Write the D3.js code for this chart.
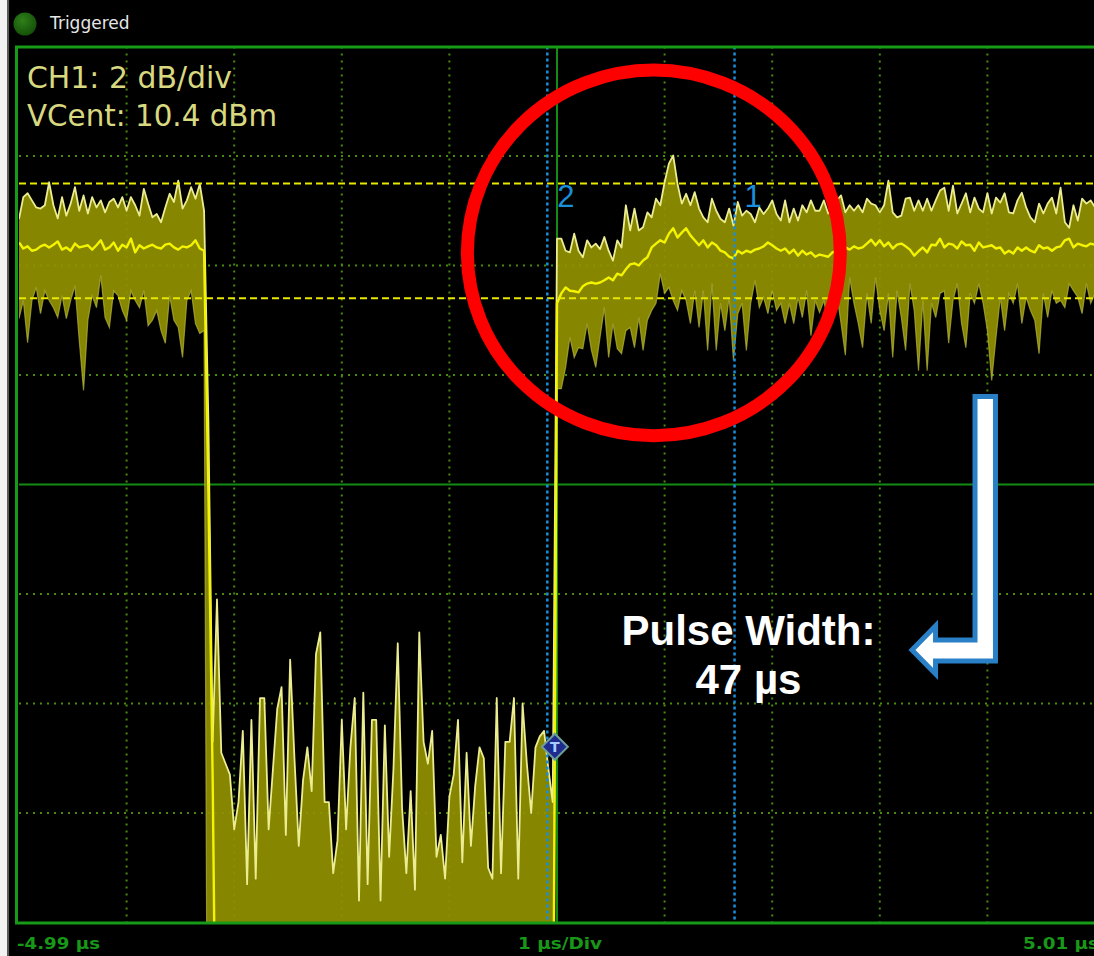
<!DOCTYPE html>
<html>
<head>
<meta charset="utf-8">
<script src="https://cdn.jsdelivr.net/npm/d3@7"></script>
<style>
  html, body { margin: 0; padding: 0; background: #000; }
  svg { display: block; }
</style>
</head>
<body>
<svg id="scope" width="1094" height="956"></svg>
<script>
// ---------------- acquisition (CH1 power envelope, dBm) ----------------
const sampleStart = -4.99;   // µs, first sample
const sampleStep = 0.04;     // µs between samples

// peak-hold envelope
const maxTrace = [
  15.25,15.65,15.72,15.59,15.46,15.44,15.50,15.92,15.50,15.26,
  15.65,15.31,15.53,15.83,15.40,15.68,15.35,15.65,15.46,15.59,
  15.37,15.56,15.62,15.46,15.65,15.40,15.65,15.50,15.31,15.80,
  15.53,15.28,15.34,15.19,15.46,15.71,15.56,15.95,15.44,15.59,
  15.83,15.62,15.89,15.40,
  11.57,
  5.7,8.3,5.5,5.3,5.1,4.1,4.6,5.9,3.1,6.1,
  3.2,6.5,6.5,4.1,5.2,6.3,6.7,4.0,7.2,5.4,
  3.8,5.0,5.6,4.8,7.3,7.7,4.6,4.6,3.3,3.9,
  6.1,4.1,5.6,6.5,2.8,6.6,3.1,6.1,6.1,2.8,
  6.0,3.6,5.2,7.5,4.5,3.3,4.8,3.0,7.7,5.7,
  5.3,5.9,3.6,4.0,3.2,4.7,5.1,6.1,3.5,5.5,
  3.8,4.9,5.6,5.4,3.4,3.2,6.5,3.3,5.7,5.7,
  6.5,3.2,6.4,5.3,4.4,5.6,5.8,5.9,5.2,4.6,
  14.89,14.89,14.67,14.64,14.98,14.67,14.55,14.86,14.73,14.80,
  14.70,14.92,14.67,14.49,14.86,14.73,15.50,15.04,15.44,15.04,
  15.10,15.37,15.28,15.62,15.50,15.92,16.26,16.41,15.89,15.53,
  15.71,15.50,15.74,15.44,15.28,15.19,15.62,15.40,15.25,15.19,
  15.44,15.13,15.56,15.31,15.40,15.34,15.19,15.46,15.34,15.44,
  15.59,15.34,15.22,15.59,15.19,15.44,15.22,
  15.50,15.37,15.59,15.40,15.40,15.59,15.35,15.44,15.59,15.68,
  15.37,15.50,15.40,15.50,15.37,15.62,15.53,15.50,15.37,15.50,
  15.95,15.37,15.28,15.31,15.62,15.64,15.40,15.59,15.40,15.62,
  15.40,15.59,15.77,15.82,15.40,15.86,15.35,15.53,15.72,15.37,
  15.64,15.44,15.37,15.72,15.35,15.64,15.55,15.72,15.37,15.35,
  15.59,15.73,15.46,15.28,15.19,15.53,15.35,15.53,15.64,15.35,
  15.82,15.19,15.09,15.50,15.22,15.62,15.53,15.59,15.46
];

// averaged trace
const avgTrace = [
  14.82,14.71,14.75,14.67,14.69,14.75,14.78,14.73,14.78,14.84,
  14.69,14.73,14.67,14.80,14.73,14.75,14.77,14.69,14.77,14.86,
  14.69,14.73,14.82,14.67,14.78,14.73,14.89,14.64,14.77,14.71,
  14.75,14.78,14.73,14.71,14.78,14.80,14.73,14.69,14.75,14.73,
  14.77,14.86,14.71,14.67,
  10.3,
  5.0,-2.3,-1.9,-2.8,-1.4,-2.1,-2.6,-1.8,-2.2,-1.5,
  -2.4,-1.7,-2.0,-2.9,-1.6,-2.2,-1.9,-2.5,-1.3,-2.0,
  -2.7,-1.8,-2.1,-1.6,-2.4,-2.0,-1.5,-2.6,-1.9,-2.2,
  -1.7,-2.3,-2.8,-1.4,-2.0,-2.5,-1.8,-2.1,-1.6,-2.4,
  -2.2,-1.9,-2.6,-1.5,-2.0,-2.3,-1.7,-2.8,-1.9,-2.1,
  -1.6,-2.4,-2.0,-1.8,-2.5,-1.4,-2.2,-1.9,-2.7,-1.6,
  -2.1,-2.3,-1.8,-2.0,-2.6,-1.5,-2.2,-1.9,-2.4,-1.7,
  -2.0,-2.5,-1.6,-2.2,-1.8,-2.3,-1.9,-2.1,-1.7,-2.0,
  13.71,13.89,14.00,13.94,13.93,13.91,14.02,14.07,14.09,14.07,
  14.09,14.13,14.18,14.13,14.25,14.22,14.33,14.42,14.44,14.40,
  14.49,14.55,14.73,14.80,14.86,14.82,14.98,15.08,14.91,15.00,
  15.08,14.95,14.86,14.77,14.86,14.73,14.82,14.77,14.67,14.64,
  14.56,14.53,14.67,14.62,14.67,14.64,14.69,14.71,14.75,14.82,
  14.77,14.71,14.67,14.71,14.62,14.69,14.58,
  14.67,14.60,14.64,14.56,14.60,14.58,14.56,14.64,14.67,14.62,
  14.73,14.69,14.75,14.71,14.73,14.80,14.87,14.77,14.86,14.75,
  14.82,14.71,14.78,14.80,14.75,14.69,14.58,14.66,14.73,14.64,
  14.78,14.77,14.89,14.73,14.80,14.78,14.71,14.84,14.77,14.78,
  14.67,14.82,14.73,14.75,14.77,14.71,14.73,14.62,14.67,14.62,
  14.73,14.67,14.73,14.67,14.64,14.77,14.71,14.73,14.67,14.73,
  14.75,14.86,14.89,14.73,14.80,14.77,14.75,14.80,14.78
];

// minimum-hold envelope
const minTrace = [
  13.43,13.76,12.99,13.76,14.00,13.52,13.94,13.76,13.63,13.45,
  13.85,13.43,13.76,14.03,13.03,12.12,13.40,13.85,13.63,14.22,
  13.45,13.27,13.94,13.85,13.58,13.40,13.94,13.76,13.63,13.94,
  13.30,13.40,13.58,13.21,12.98,13.85,13.40,13.27,12.72,13.76,
  13.94,13.34,13.16,13.21,
  -5.2,
  -6.1,-5.8,-6.4,-5.9,-6.2,-6.6,-5.7,-6.0,-6.3,-5.9,
  -6.5,-6.1,-5.8,-6.2,-6.0,-6.4,-5.7,-6.3,-6.1,-5.9,
  -6.2,-6.6,-5.8,-6.0,-6.3,-6.1,-5.9,-6.4,-6.2,-5.8,
  -6.0,-6.5,-6.1,-5.7,-6.3,-6.0,-6.2,-5.9,-6.4,-6.1,
  -5.8,-6.2,-6.0,-6.6,-5.9,-6.1,-6.3,-5.8,-6.0,-6.2,
  -6.4,-5.9,-6.1,-6.0,-6.3,-5.7,-6.2,-6.0,-5.9,-6.5,
  -6.1,-5.8,-6.2,-6.0,-6.4,-5.9,-6.1,-6.3,-5.8,-6.0,
  -6.2,-5.9,-6.1,-6.4,-6.0,-5.8,-6.2,-6.1,-5.9,-6.0,
  12.15,12.15,12.54,13.09,12.72,12.90,12.88,13.34,12.85,12.54,
  13.09,13.63,12.72,13.34,12.88,12.79,13.21,13.27,12.90,13.45,
  12.85,13.40,13.58,13.71,14.25,13.89,14.00,13.76,13.58,13.94,
  13.76,13.34,13.94,13.27,13.94,12.85,14.07,12.85,13.71,13.21,
  13.82,12.67,13.52,13.71,12.85,13.71,14.13,13.63,13.82,13.52,
  13.94,13.58,13.71,13.34,13.71,13.34,13.82,
  13.45,13.94,13.12,13.76,13.54,13.76,13.34,13.94,13.89,13.34,
  12.76,14.18,13.71,13.34,12.90,13.89,13.34,14.18,13.58,13.21,
  13.89,12.72,13.94,13.45,12.85,14.07,13.58,12.48,13.76,12.48,
  13.71,13.45,13.89,13.94,12.98,13.76,14.07,13.34,12.90,13.89,
  13.71,14.07,13.71,13.21,12.30,13.09,13.82,13.21,13.89,13.71,
  14.07,13.34,13.82,13.58,13.40,12.79,13.89,13.45,13.94,13.71,
  13.76,13.63,14.07,13.94,13.82,13.52,14.07,13.71,13.89
];

// ---------------- display setup ----------------
const timeRange = [-4.99, 5.01];          // µs across the screen
const levelRange = [2.4, 18.4];           // dBm, 2 dB/div about 10.4 dBm
const timeGrid = [-3.99, -2.99, -1.99, -0.99, 1.01, 2.01, 3.01, 4.01];
const levelGrid = [4.4, 6.4, 8.4, 12.4, 14.4, 16.4];
const centerTime = 0.01;
const centerLevel = 10.4;
const levelCursors = [15.9, 13.8];        // dBm
const timeCursors = [-0.08, 1.66];        // µs
const timeCursorLabels = ["2", "1"];
const triggerTime = -0.01;
const triggerLevel = 5.61;
const readoutLines = ["CH1: 2 dB/div", "VCent: 10.4 dBm"];
const axisLabels = ["-4.99 µs", "1 µs/Div", "5.01 µs"];
const statusText = "Triggered";
const noteLines = ["Pulse Width:", "47 µs"];

// highlight ring (centre in µs / dBm, radii in µs / dB)
const ringCenter = [0.91, 14.63];
const ringRadii = [1.733, 3.34];
// call-out arrow outline, [µs, dBm]
const arrowOutline = [
  [4.085, 12.007], [4.085, 7.176], [3.528, 7.176], [3.528, 6.939],
  [3.309, 7.377], [3.528, 7.816], [3.528, 7.560], [3.895, 7.560],
  [3.895, 12.007]
];

// ---------------- drawing ----------------
const svg = d3.select("#scope");
const W = 1094, H = 956;

const x = d3.scaleLinear().domain(timeRange).range([19, 1095]);
const y = d3.scaleLinear().domain(levelRange).range([922.5, 46.5]);

svg.append("rect").attr("width", W).attr("height", H).attr("fill", "#000");
// window edge on the left
svg.append("rect").attr("x", 0).attr("y", 0).attr("width", 7).attr("height", H).attr("fill", "#f2f2f2");
svg.append("rect").attr("x", 7).attr("y", 0).attr("width", 2).attr("height", H).attr("fill", "#5a5a5a");

// status header
const defs = svg.append("defs");
const led = defs.append("radialGradient").attr("id", "led")
  .attr("cx", "40%").attr("cy", "35%").attr("r", "65%");
led.append("stop").attr("offset", "0%").attr("stop-color", "#2f7f1a");
led.append("stop").attr("offset", "100%").attr("stop-color", "#145208");
svg.append("circle").attr("cx", 25).attr("cy", 24).attr("r", 11.5).attr("fill", "url(#led)");
svg.append("text").attr("x", 50).attr("y", 29)
  .attr("font-family", "DejaVu Sans, sans-serif").attr("font-size", 17)
  .attr("fill", "#e6e6e6").text(statusText);

// plot clip
defs.append("clipPath").attr("id", "plotClip")
  .append("rect").attr("x", x.range()[0]).attr("y", y.range()[1])
  .attr("width", x.range()[1] - x.range()[0]).attr("height", y.range()[0] - y.range()[1]);

// graticule
const grid = svg.append("g");
grid.selectAll("line.v").data(timeGrid).join("line")
  .attr("x1", d => x(d)).attr("x2", d => x(d))
  .attr("y1", y.range()[1]).attr("y2", y.range()[0])
  .attr("stroke", "#4a8a0c").attr("stroke-width", 2).attr("stroke-dasharray", "2,5");
grid.selectAll("line.h").data(levelGrid).join("line")
  .attr("y1", d => y(d)).attr("y2", d => y(d))
  .attr("x1", x.range()[0]).attr("x2", x.range()[1])
  .attr("stroke", "#4a8a0c").attr("stroke-width", 2).attr("stroke-dasharray", "2,5");
grid.append("line").attr("x1", x(centerTime)).attr("x2", x(centerTime))
  .attr("y1", y.range()[1]).attr("y2", y.range()[0])
  .attr("stroke", "#128c12").attr("stroke-width", 2);
grid.append("line").attr("y1", y(centerLevel)).attr("y2", y(centerLevel))
  .attr("x1", x.range()[0]).attr("x2", x.range()[1])
  .attr("stroke", "#128c12").attr("stroke-width", 2);

// trace
const samples = maxTrace.map((v, i) => ({
  t: sampleStart + i * sampleStep, hi: v, mean: avgTrace[i], lo: minTrace[i]
}));
const trace = svg.append("g").attr("clip-path", "url(#plotClip)");
trace.append("path").datum(samples)
  .attr("d", d3.area().x(d => x(d.t)).y0(d => y(d.lo)).y1(d => y(d.hi)))
  .attr("fill", "#919100").attr("fill-opacity", 0.92);
trace.append("path").datum(samples)
  .attr("d", d3.line().x(d => x(d.t)).y(d => y(d.lo)))
  .attr("fill", "none").attr("stroke", "#b8b840").attr("stroke-opacity", 0.7).attr("stroke-width", 1.2);
trace.append("path").datum(samples)
  .attr("d", d3.line().x(d => x(d.t)).y(d => y(d.hi)))
  .attr("fill", "none").attr("stroke", "#ecec90").attr("stroke-width", 1.8).attr("stroke-linejoin", "round");
trace.append("path").datum(samples)
  .attr("d", d3.line().x(d => x(d.t)).y(d => y(d.mean)))
  .attr("fill", "none").attr("stroke", "#f4f400").attr("stroke-width", 2.4).attr("stroke-linejoin", "round");

// level cursors
svg.append("g").selectAll("line").data(levelCursors).join("line")
  .attr("y1", d => y(d)).attr("y2", d => y(d))
  .attr("x1", x.range()[0]).attr("x2", x.range()[1])
  .attr("stroke", "#e8e800").attr("stroke-width", 2).attr("stroke-dasharray", "7,4");

// time cursors
const tc = svg.append("g");
tc.selectAll("line").data(timeCursors).join("line")
  .attr("x1", d => x(d)).attr("x2", d => x(d))
  .attr("y1", y.range()[1]).attr("y2", y.range()[0])
  .attr("stroke", "#1a8ed8").attr("stroke-width", 2.5).attr("stroke-dasharray", "3,3");
tc.selectAll("text").data(timeCursors).join("text")
  .attr("x", d => x(d) + 10).attr("y", 207)
  .attr("font-family", "Liberation Sans, sans-serif").attr("font-size", 31)
  .attr("fill", "#1a8ed8")
  .text((d, i) => timeCursorLabels[i]);

// trigger marker
const trig = svg.append("g").attr("transform", `translate(${x(triggerTime)},${y(triggerLevel)})`);
trig.append("path").attr("d", "M0,-13 L13,0 L0,13 L-13,0 Z")
  .attr("fill", "#1d2c8e").attr("stroke", "#6f9e9a").attr("stroke-width", 2);
trig.append("text").attr("y", 5).attr("text-anchor", "middle")
  .attr("font-family", "DejaVu Sans, sans-serif").attr("font-weight", "bold").attr("font-size", 14)
  .attr("fill", "#a8ccff").text("T");

// frame
svg.append("rect").attr("x", 16.5).attr("y", 47).attr("width", 1082).attr("height", 876)
  .attr("fill", "none").attr("stroke", "#179a17").attr("stroke-width", 3);

// channel readout
const readWidths = [205, 250];
svg.append("g").selectAll("text").data(readoutLines).join("text")
  .attr("x", 27).attr("y", (d, i) => 88 + i * 38)
  .attr("font-family", "DejaVu Sans, sans-serif").attr("font-size", 30)
  .attr("textLength", (d, i) => readWidths[i]).attr("lengthAdjust", "spacingAndGlyphs")
  .attr("fill", "#d8d880").text(d => d);

// time-axis labels
const axisPos = [17, 518, 1023];
const axisWidths = [83, 84, 76];
svg.append("g").selectAll("text").data(axisLabels).join("text")
  .attr("x", (d, i) => axisPos[i]).attr("y", 949)
  .attr("font-family", "DejaVu Sans, sans-serif").attr("font-weight", "bold").attr("font-size", 16)
  .attr("textLength", (d, i) => axisWidths[i]).attr("lengthAdjust", "spacingAndGlyphs")
  .attr("fill", "#189818").text(d => d);

// highlight ring
svg.append("ellipse")
  .attr("cx", x(ringCenter[0])).attr("cy", y(ringCenter[1]))
  .attr("rx", x(ringCenter[0] + ringRadii[0]) - x(ringCenter[0]))
  .attr("ry", y(ringCenter[1] - ringRadii[1]) - y(ringCenter[1]))
  .attr("fill", "none").attr("stroke", "#ff0000").attr("stroke-width", 13);

// call-out arrow and note
svg.append("path")
  .attr("d", d3.line().x(d => x(d[0])).y(d => y(d[1]))(arrowOutline) + "Z")
  .attr("fill", "#ffffff").attr("stroke", "#2a80c6").attr("stroke-width", 5)
  .attr("stroke-linejoin", "miter");
svg.append("g").selectAll("text").data(noteLines).join("text")
  .attr("x", 748.5).attr("y", (d, i) => 645 + i * 49)
  .attr("text-anchor", "middle")
  .attr("font-family", "Liberation Sans, Arial, sans-serif").attr("font-weight", "bold").attr("font-size", 42)
  .attr("fill", "#ffffff").text(d => d);
</script>
</body>
</html>
